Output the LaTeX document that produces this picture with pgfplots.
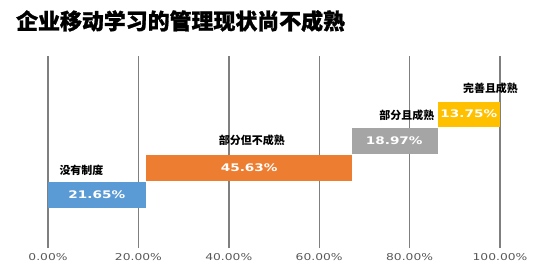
\documentclass[border=0pt]{standalone}
\usepackage{pgfplots}
\pgfplotsset{compat=1.18}
\usepackage{fontspec}
\setmainfont{DejaVu Sans}
\newfontfamily\cjk{Noto Sans CJK SC}
\newfontfamily\cjkt[BoldFeatures={FakeBold=1.2}]{Noto Sans CJK SC}
\newfontfamily\numfont[FakeStretch=1.3]{DejaVu Sans}
\definecolor{cblue}{HTML}{5B9BD5}
\definecolor{corange}{HTML}{ED7D31}
\definecolor{cgray}{HTML}{A5A5A5}
\definecolor{cyellow}{HTML}{FFC000}
\definecolor{gridc}{HTML}{7F7F7F}
\definecolor{tickc}{HTML}{595959}
\tikzset{val/.style={font={\numfont\bfseries\fontsize{10.5}{12}\selectfont}, text=white, inner sep=0pt},
         lab/.style={font={\cjk\bfseries\fontsize{11}{13}\selectfont}, text=black, inner sep=0pt}}
\begin{document}
\begin{tikzpicture}
\path[use as bounding box] (0bp,0bp) rectangle (553bp,274bp);
\node[anchor=west,inner sep=0pt,font={\cjkt\bfseries\fontsize{22}{24}\selectfont}] at (16bp,253bp) {企业移动学习的管理现状尚不成熟};
\begin{axis}[
  at={(48bp,26bp)}, anchor=south west,
  scale only axis, width=452bp, height=192bp,
  xmin=0, xmax=100, ymin=-1, ymax=6.19,
  xbar stacked, bar width=0.97,
  axis line style={draw=none},
  ytick=\empty,
  xtick={0,20,40,60,80,100},
  xticklabels={0.00\%,20.00\%,40.00\%,60.00\%,80.00\%,100.00\%},
  x tick label style={font={\numfont\fontsize{9.5}{11}\selectfont}, text=tickc, yshift=-2bp},
  major tick length=0pt,
  xmajorgrids,
  major grid style={color=gridc, line width=1.4bp},
  clip=false,
]
\addplot[draw=none, fill=white, fill opacity=0] coordinates {(0,1) (21.65,2) (67.28,3) (86.25,4)};
\addplot[draw=none, fill=cblue] coordinates {(21.65,1) (0,2) (0,3) (0,4)};
\addplot[draw=none, fill=corange] coordinates {(0,1) (45.63,2) (0,3) (0,4)};
\addplot[draw=none, fill=cgray] coordinates {(0,1) (0,2) (18.97,3) (0,4)};
\addplot[draw=none, fill=cyellow] coordinates {(0,1) (0,2) (0,3) (13.75,4)};
\coordinate (v1) at (axis cs:10.8,1);
\coordinate (v2) at (axis cs:44.5,2.02);
\coordinate (v3) at (axis cs:76.6,3);
\coordinate (v4) at (axis cs:93.1,4.02);
\coordinate (l1) at (axis cs:7.4,1.92);
\coordinate (l2) at (axis cs:45.1,3.02);
\coordinate (l3) at (axis cs:79.4,3.98);
\coordinate (l4) at (axis cs:97.9,4.99);
\end{axis}
\node[val] at (v1) {21.65\%};
\node[val] at (v2) {45.63\%};
\node[val] at (v3) {18.97\%};
\node[val] at (v4) {13.75\%};
\node[lab] at (l1) {没有制度};
\node[lab] at (l2) {部分但不成熟};
\node[lab] at (l3) {部分且成熟};
\node[lab] at (l4) {完善且成熟};
\end{tikzpicture}
\end{document}
